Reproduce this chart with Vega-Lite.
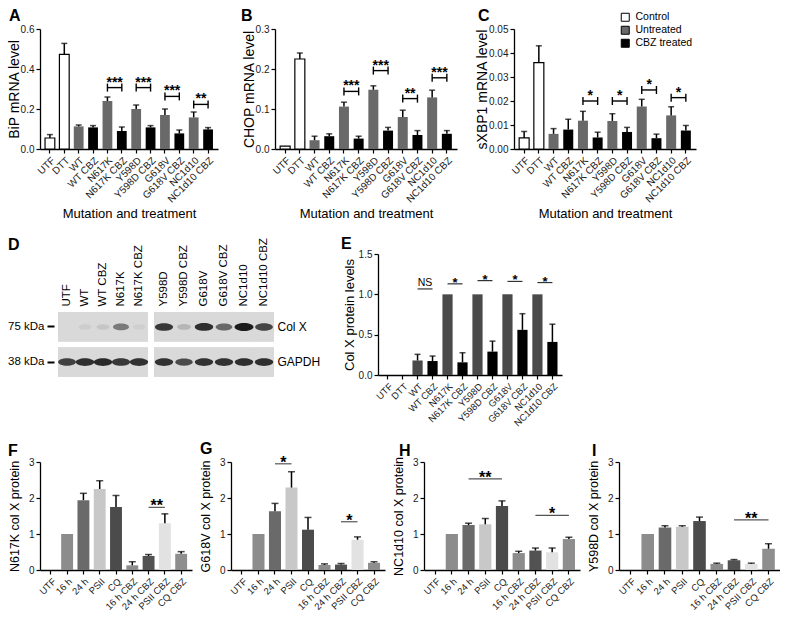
{
"$schema":"https://vega.github.io/schema/vega-lite/v6.json",
"padding":{"left":7,"top":8,"right":0,"bottom":0},
"autosize":{"type":"pad"},
"background":"white",
"config":{
 "font":"Liberation Sans",
 "view":{"stroke":null},
 "axis":{"labelFontSize":10,"labelColor":"#1a1a1a","titleColor":"black","titleFontWeight":"normal","domainColor":"black","domainWidth":1.3,"tickColor":"black","tickWidth":1.2,"tickSize":4,"grid":false,"labelPadding":2},
 "axisY":{"labelOverlap":false},
 "title":{"fontSize":16,"fontWeight":"bold","color":"black"},
 "legend":{"labelColor":"black"}
},
"datasets":{
 "A":[
  {"cat":"UTF","grp":"Control","m":0.055,"hi":0.072},
  {"cat":"DTT","grp":"Control","m":0.473,"hi":0.528},
  {"cat":"WT","grp":"Untreated","m":0.113,"hi":0.12},
  {"cat":"WT CBZ","grp":"CBZ treated","m":0.108,"hi":0.117},
  {"cat":"N617K","grp":"Untreated","m":0.24,"hi":0.26},
  {"cat":"N617K CBZ","grp":"CBZ treated","m":0.09,"hi":0.11},
  {"cat":"Y598D","grp":"Untreated","m":0.2,"hi":0.22},
  {"cat":"Y598D CBZ","grp":"CBZ treated","m":0.108,"hi":0.117},
  {"cat":"G618V","grp":"Untreated","m":0.17,"hi":0.2},
  {"cat":"G618V CBZ","grp":"CBZ treated","m":0.078,"hi":0.095},
  {"cat":"NC1d10","grp":"Untreated","m":0.158,"hi":0.185},
  {"cat":"NC1d10 CBZ","grp":"CBZ treated","m":0.098,"hi":0.107}
 ],
 "As":[
  {"a":"N617K","b":"N617K CBZ","y":0.307,"lab":"***"},
  {"a":"Y598D","b":"Y598D CBZ","y":0.307,"lab":"***"},
  {"a":"G618V","b":"G618V CBZ","y":0.263,"lab":"***"},
  {"a":"NC1d10","b":"NC1d10 CBZ","y":0.223,"lab":"**"}
 ],
 "B":[
  {"cat":"UTF","grp":"Control","m":0.007,"hi":null},
  {"cat":"DTT","grp":"Control","m":0.225,"hi":0.24},
  {"cat":"WT","grp":"Untreated","m":0.022,"hi":0.032},
  {"cat":"WT CBZ","grp":"CBZ treated","m":0.032,"hi":0.038},
  {"cat":"N617K","grp":"Untreated","m":0.106,"hi":0.117},
  {"cat":"N617K CBZ","grp":"CBZ treated","m":0.026,"hi":0.032},
  {"cat":"Y598D","grp":"Untreated","m":0.148,"hi":0.158},
  {"cat":"Y598D CBZ","grp":"CBZ treated","m":0.046,"hi":0.054},
  {"cat":"G618V","grp":"Untreated","m":0.08,"hi":0.097},
  {"cat":"G618V CBZ","grp":"CBZ treated","m":0.035,"hi":0.046},
  {"cat":"NC1d10","grp":"Untreated","m":0.129,"hi":0.147},
  {"cat":"NC1d10 CBZ","grp":"CBZ treated","m":0.038,"hi":0.046}
 ],
 "Bs":[
  {"a":"N617K","b":"N617K CBZ","y":0.144,"lab":"***"},
  {"a":"Y598D","b":"Y598D CBZ","y":0.196,"lab":"***"},
  {"a":"G618V","b":"G618V CBZ","y":0.126,"lab":"**"},
  {"a":"NC1d10","b":"NC1d10 CBZ","y":0.178,"lab":"***"}
 ],
 "C":[
  {"cat":"UTF","grp":"Control","m":0.0046,"hi":0.0073},
  {"cat":"DTT","grp":"Control","m":0.036,"hi":0.043},
  {"cat":"WT","grp":"Untreated","m":0.0063,"hi":0.0085},
  {"cat":"WT CBZ","grp":"CBZ treated","m":0.0081,"hi":0.0124},
  {"cat":"N617K","grp":"Untreated","m":0.0118,"hi":0.0157},
  {"cat":"N617K CBZ","grp":"CBZ treated","m":0.0048,"hi":0.007},
  {"cat":"Y598D","grp":"Untreated","m":0.0117,"hi":0.0147},
  {"cat":"Y598D CBZ","grp":"CBZ treated","m":0.0071,"hi":0.009},
  {"cat":"G618V","grp":"Untreated","m":0.0177,"hi":0.0207},
  {"cat":"G618V CBZ","grp":"CBZ treated","m":0.0045,"hi":0.0062},
  {"cat":"NC1d10","grp":"Untreated","m":0.014,"hi":0.0176},
  {"cat":"NC1d10 CBZ","grp":"CBZ treated","m":0.0077,"hi":0.0098}
 ],
 "Cs":[
  {"a":"N617K","b":"N617K CBZ","y":0.02,"lab":"*"},
  {"a":"Y598D","b":"Y598D CBZ","y":0.02,"lab":"*"},
  {"a":"G618V","b":"G618V CBZ","y":0.0246,"lab":"*"},
  {"a":"NC1d10","b":"NC1d10 CBZ","y":0.0214,"lab":"*"}
 ],
 "D1":[
  {"lane":"UTF","prot":"Col X","s":0.0},
  {"lane":"WT","prot":"Col X","s":0.06},
  {"lane":"WT CBZ","prot":"Col X","s":0.1},
  {"lane":"N617K","prot":"Col X","s":0.5},
  {"lane":"N617K CBZ","prot":"Col X","s":0.05},
  {"lane":"UTF","prot":"GAPDH","s":0.8},
  {"lane":"WT","prot":"GAPDH","s":0.9},
  {"lane":"WT CBZ","prot":"GAPDH","s":0.92},
  {"lane":"N617K","prot":"GAPDH","s":0.85},
  {"lane":"N617K CBZ","prot":"GAPDH","s":0.88}
 ],
 "D2":[
  {"lane":"Y598D","prot":"Col X","s":0.85},
  {"lane":"Y598D CBZ","prot":"Col X","s":0.18},
  {"lane":"G618V","prot":"Col X","s":0.9},
  {"lane":"G618V CBZ","prot":"Col X","s":0.6},
  {"lane":"NC1d10","prot":"Col X","s":1.0},
  {"lane":"NC1d10 CBZ","prot":"Col X","s":0.78},
  {"lane":"Y598D","prot":"GAPDH","s":0.88},
  {"lane":"Y598D CBZ","prot":"GAPDH","s":0.75},
  {"lane":"G618V","prot":"GAPDH","s":0.88},
  {"lane":"G618V CBZ","prot":"GAPDH","s":0.88},
  {"lane":"NC1d10","prot":"GAPDH","s":0.9},
  {"lane":"NC1d10 CBZ","prot":"GAPDH","s":0.9}
 ],
 "E":[
  {"cat":"WT","grp":"Untreated","m":0.18,"hi":0.256},
  {"cat":"WT CBZ","grp":"CBZ treated","m":0.173,"hi":0.235},
  {"cat":"N617K","grp":"Untreated","m":1.0,"hi":null},
  {"cat":"N617K CBZ","grp":"CBZ treated","m":0.157,"hi":0.276},
  {"cat":"Y598D","grp":"Untreated","m":1.0,"hi":null},
  {"cat":"Y598D CBZ","grp":"CBZ treated","m":0.29,"hi":0.42},
  {"cat":"G618V","grp":"Untreated","m":1.0,"hi":null},
  {"cat":"G618V CBZ","grp":"CBZ treated","m":0.56,"hi":0.76},
  {"cat":"NC1d10","grp":"Untreated","m":1.0,"hi":null},
  {"cat":"NC1d10 CBZ","grp":"CBZ treated","m":0.41,"hi":0.63}
 ],
 "Es":[
  {"a":"WT","b":"WT CBZ","y":1.067,"lab":"NS"},
  {"a":"N617K","b":"N617K CBZ","y":1.13,"lab":"*"},
  {"a":"Y598D","b":"Y598D CBZ","y":1.17,"lab":"*"},
  {"a":"G618V","b":"G618V CBZ","y":1.16,"lab":"*"},
  {"a":"NC1d10","b":"NC1d10 CBZ","y":1.146,"lab":"*"}
 ],
 "F":[
  {"cat":"16 h","m":1.0,"hi":null},
  {"cat":"24 h","m":1.94,"hi":2.13},
  {"cat":"PSII","m":2.25,"hi":2.48},
  {"cat":"CQ","m":1.75,"hi":2.07},
  {"cat":"16 h CBZ","m":0.13,"hi":0.23},
  {"cat":"24 h CBZ","m":0.39,"hi":0.43},
  {"cat":"PSII CBZ","m":1.3,"hi":1.56},
  {"cat":"CQ CBZ","m":0.45,"hi":0.51}
 ],
 "Fs":[{"a":"24 h CBZ","b":"PSII CBZ","y":1.74,"lab":"**"}],
 "G":[
  {"cat":"16 h","m":1.0,"hi":null},
  {"cat":"24 h","m":1.63,"hi":1.85},
  {"cat":"PSII","m":2.29,"hi":2.73},
  {"cat":"CQ","m":1.12,"hi":1.46},
  {"cat":"16 h CBZ","m":0.14,"hi":0.17},
  {"cat":"24 h CBZ","m":0.15,"hi":0.18},
  {"cat":"PSII CBZ","m":0.84,"hi":0.92},
  {"cat":"CQ CBZ","m":0.2,"hi":0.23}
 ],
 "Gs":[{"a":"24 h","b":"PSII","y":2.95,"lab":"*"},{"a":"24 h CBZ","b":"PSII CBZ","y":1.34,"lab":"*"}],
 "H":[
  {"cat":"16 h","m":1.0,"hi":null},
  {"cat":"24 h","m":1.25,"hi":1.3},
  {"cat":"PSII","m":1.27,"hi":1.43},
  {"cat":"CQ","m":1.78,"hi":1.92},
  {"cat":"16 h CBZ","m":0.47,"hi":0.52},
  {"cat":"24 h CBZ","m":0.54,"hi":0.61},
  {"cat":"PSII CBZ","m":0.49,"hi":0.61},
  {"cat":"CQ CBZ","m":0.86,"hi":0.91}
 ],
 "Hs":[{"a":"24 h","b":"CQ","mid":"PSII","y":2.53,"lab":"**"},{"a":"24 h CBZ","b":"CQ CBZ","mid":"PSII CBZ","y":1.52,"lab":"*"}],
 "I":[
  {"cat":"16 h","m":1.0,"hi":null},
  {"cat":"24 h","m":1.18,"hi":1.23},
  {"cat":"PSII","m":1.2,"hi":1.23},
  {"cat":"CQ","m":1.36,"hi":1.47},
  {"cat":"16 h CBZ","m":0.17,"hi":0.19},
  {"cat":"24 h CBZ","m":0.27,"hi":0.29},
  {"cat":"PSII CBZ","m":0.17,"hi":0.19},
  {"cat":"CQ CBZ","m":0.59,"hi":0.73}
 ],
 "Is":[{"a":"24 h CBZ","b":"CQ CBZ","mid":"PSII CBZ","y":1.39,"lab":"**"}]
},
"resolve":{"scale":{"fill":"independent","stroke":"independent"}},
"spacing":12,
"vconcat":[
 {
 "spacing":15,
 "resolve":{"scale":{"fill":"independent","stroke":"independent"}},
 "vconcat":[
 {
  "bounds":"flush","spacing":57,
  "resolve":{"scale":{"fill":"independent"},"legend":{"fill":"independent"}},
  "hconcat":[
   {
    "width":178,"height":120,
    "title":{"text":"A","frame":"group","anchor":"start","dx":-31,"dy":17,"offset":4,"baseline":"alphabetic"},
    "layer":[
     {"data":{"name":"A"},"mark":{"type":"bar","strokeWidth":1.2},
      "encoding":{
       "x":{"field":"cat","type":"nominal","scale":{"domain":["UTF","DTT","WT","WT CBZ","N617K","N617K CBZ","Y598D","Y598D CBZ","G618V","G618V CBZ","NC1d10","NC1d10 CBZ"],"paddingInner":0.32,"paddingOuter":0.35},"axis":{"labelAngle":-45,"labelFontSize":10,"title":"Mutation and treatment","titleFontSize":13,"titlePadding":3}},
       "y":{"field":"m","type":"quantitative","scale":{"domain":[0,0.6]},"axis":{"values":[0,0.2,0.4,0.6],"tickCount":20,"format":".1f","title":"BiP mRNA level","titleFontSize":14,"titlePadding":-1,"labelOverlap":false}},
       "fill":{"field":"grp","type":"nominal","scale":{"domain":["Control","Untreated","CBZ treated"],"range":["#ffffff","#696969","#000000"]},"legend":null},
       "stroke":{"condition":{"test":"datum.grp === 'Control'","value":"#000000"},"value":"transparent"}}},
     {"data":{"name":"A"},"transform":[{"filter":"datum.hi != null"}],"mark":{"type":"rule","color":"black","strokeWidth":1.5},
      "encoding":{"x":{"field":"cat","type":"nominal","scale":{"domain":["UTF","DTT","WT","WT CBZ","N617K","N617K CBZ","Y598D","Y598D CBZ","G618V","G618V CBZ","NC1d10","NC1d10 CBZ"]}},"y":{"field":"m","type":"quantitative","scale":{"domain":[0,0.6]}},"y2":{"field":"hi"}}},
     {"data":{"name":"A"},"transform":[{"filter":"datum.hi != null"}],"mark":{"type":"tick","color":"black","thickness":1.5,"size":6},
      "encoding":{"x":{"field":"cat","type":"nominal","scale":{"domain":["UTF","DTT","WT","WT CBZ","N617K","N617K CBZ","Y598D","Y598D CBZ","G618V","G618V CBZ","NC1d10","NC1d10 CBZ"]}},"y":{"field":"hi","type":"quantitative","scale":{"domain":[0,0.6]}}}},
     {"data":{"name":"As"},"mark":{"type":"rule","color":"black","strokeWidth":1.4},
      "encoding":{"x":{"field":"a","type":"nominal","scale":{"domain":["UTF","DTT","WT","WT CBZ","N617K","N617K CBZ","Y598D","Y598D CBZ","G618V","G618V CBZ","NC1d10","NC1d10 CBZ"]}},"x2":{"field":"b"},"y":{"field":"y","type":"quantitative","scale":{"domain":[0,0.6]}}}},
     {"data":{"name":"As"},"mark":{"type":"point","shape":"M0,-1L0,1","size":64,"filled":false,"color":"black","strokeWidth":1.4,"opacity":1},
      "encoding":{"x":{"field":"a","type":"nominal","scale":{"domain":["UTF","DTT","WT","WT CBZ","N617K","N617K CBZ","Y598D","Y598D CBZ","G618V","G618V CBZ","NC1d10","NC1d10 CBZ"]}},"y":{"field":"y","type":"quantitative","scale":{"domain":[0,0.6]}}}},
     {"data":{"name":"As"},"mark":{"type":"point","shape":"M0,-1L0,1","size":64,"filled":false,"color":"black","strokeWidth":1.4,"opacity":1},
      "encoding":{"x":{"field":"b","type":"nominal","scale":{"domain":["UTF","DTT","WT","WT CBZ","N617K","N617K CBZ","Y598D","Y598D CBZ","G618V","G618V CBZ","NC1d10","NC1d10 CBZ"]}},"y":{"field":"y","type":"quantitative","scale":{"domain":[0,0.6]}}}},
     {"data":{"name":"As"},"mark":{"type":"text","fontSize":14,"fontWeight":"bold","dx":7.2,"dy":-1,"baseline":"alphabetic","align":"center","color":"black"},
      "encoding":{"x":{"field":"a","type":"nominal","scale":{"domain":["UTF","DTT","WT","WT CBZ","N617K","N617K CBZ","Y598D","Y598D CBZ","G618V","G618V CBZ","NC1d10","NC1d10 CBZ"]}},"y":{"field":"y","type":"quantitative","scale":{"domain":[0,0.6]}},"text":{"field":"lab"}}}
    ]
   },
   {
    "width":182,"height":120,
    "title":{"text":"B","frame":"group","anchor":"start","dx":-34,"dy":17,"offset":4,"baseline":"alphabetic"},
    "layer":[
     {"data":{"name":"B"},"mark":{"type":"bar","strokeWidth":1.2},
      "encoding":{
       "x":{"field":"cat","type":"nominal","scale":{"domain":["UTF","DTT","WT","WT CBZ","N617K","N617K CBZ","Y598D","Y598D CBZ","G618V","G618V CBZ","NC1d10","NC1d10 CBZ"],"paddingInner":0.32,"paddingOuter":0.35},"axis":{"labelAngle":-45,"labelFontSize":10,"title":"Mutation and treatment","titleFontSize":13,"titlePadding":3}},
       "y":{"field":"m","type":"quantitative","scale":{"domain":[0,0.3]},"axis":{"values":[0,0.1,0.2,0.3],"tickCount":20,"format":".1f","title":"CHOP mRNA level","titleFontSize":14,"titlePadding":-1,"labelOverlap":false}},
       "fill":{"field":"grp","type":"nominal","scale":{"domain":["Control","Untreated","CBZ treated"],"range":["#ffffff","#696969","#000000"]},"legend":null},
       "stroke":{"condition":{"test":"datum.grp === 'Control'","value":"#000000"},"value":"transparent"}}},
     {"data":{"name":"B"},"transform":[{"filter":"datum.hi != null"}],"mark":{"type":"rule","color":"black","strokeWidth":1.5},
      "encoding":{"x":{"field":"cat","type":"nominal","scale":{"domain":["UTF","DTT","WT","WT CBZ","N617K","N617K CBZ","Y598D","Y598D CBZ","G618V","G618V CBZ","NC1d10","NC1d10 CBZ"]}},"y":{"field":"m","type":"quantitative","scale":{"domain":[0,0.3]}},"y2":{"field":"hi"}}},
     {"data":{"name":"B"},"transform":[{"filter":"datum.hi != null"}],"mark":{"type":"tick","color":"black","thickness":1.5,"size":6},
      "encoding":{"x":{"field":"cat","type":"nominal","scale":{"domain":["UTF","DTT","WT","WT CBZ","N617K","N617K CBZ","Y598D","Y598D CBZ","G618V","G618V CBZ","NC1d10","NC1d10 CBZ"]}},"y":{"field":"hi","type":"quantitative","scale":{"domain":[0,0.3]}}}},
     {"data":{"name":"Bs"},"mark":{"type":"rule","color":"black","strokeWidth":1.4},
      "encoding":{"x":{"field":"a","type":"nominal","scale":{"domain":["UTF","DTT","WT","WT CBZ","N617K","N617K CBZ","Y598D","Y598D CBZ","G618V","G618V CBZ","NC1d10","NC1d10 CBZ"]}},"x2":{"field":"b"},"y":{"field":"y","type":"quantitative","scale":{"domain":[0,0.3]}}}},
     {"data":{"name":"Bs"},"mark":{"type":"point","shape":"M0,-1L0,1","size":64,"filled":false,"color":"black","strokeWidth":1.4,"opacity":1},
      "encoding":{"x":{"field":"a","type":"nominal","scale":{"domain":["UTF","DTT","WT","WT CBZ","N617K","N617K CBZ","Y598D","Y598D CBZ","G618V","G618V CBZ","NC1d10","NC1d10 CBZ"]}},"y":{"field":"y","type":"quantitative","scale":{"domain":[0,0.3]}}}},
     {"data":{"name":"Bs"},"mark":{"type":"point","shape":"M0,-1L0,1","size":64,"filled":false,"color":"black","strokeWidth":1.4,"opacity":1},
      "encoding":{"x":{"field":"b","type":"nominal","scale":{"domain":["UTF","DTT","WT","WT CBZ","N617K","N617K CBZ","Y598D","Y598D CBZ","G618V","G618V CBZ","NC1d10","NC1d10 CBZ"]}},"y":{"field":"y","type":"quantitative","scale":{"domain":[0,0.3]}}}},
     {"data":{"name":"Bs"},"mark":{"type":"text","fontSize":14,"fontWeight":"bold","dx":7.35,"dy":-1,"baseline":"alphabetic","align":"center","color":"black"},
      "encoding":{"x":{"field":"a","type":"nominal","scale":{"domain":["UTF","DTT","WT","WT CBZ","N617K","N617K CBZ","Y598D","Y598D CBZ","G618V","G618V CBZ","NC1d10","NC1d10 CBZ"]}},"y":{"field":"y","type":"quantitative","scale":{"domain":[0,0.3]}},"text":{"field":"lab"}}}
    ]
   },
   {
    "width":182,"height":120,
    "title":{"text":"C","frame":"group","anchor":"start","dx":-36,"dy":29,"offset":4,"baseline":"alphabetic"},
    "layer":[
     {"data":{"name":"C"},"mark":{"type":"bar","strokeWidth":1.2},
      "encoding":{
       "x":{"field":"cat","type":"nominal","scale":{"domain":["UTF","DTT","WT","WT CBZ","N617K","N617K CBZ","Y598D","Y598D CBZ","G618V","G618V CBZ","NC1d10","NC1d10 CBZ"],"paddingInner":0.32,"paddingOuter":0.35},"axis":{"labelAngle":-45,"labelFontSize":10,"title":"Mutation and treatment","titleFontSize":13,"titlePadding":3}},
       "y":{"field":"m","type":"quantitative","scale":{"domain":[0,0.05]},"axis":{"values":[0,0.01,0.02,0.03,0.04,0.05],"tickCount":20,"format":".2f","title":"sXBP1 mRNA level","titleFontSize":14,"titlePadding":-1,"labelOverlap":false}},
       "fill":{"field":"grp","type":"nominal","scale":{"domain":["Control","Untreated","CBZ treated"],"range":["#ffffff","#696969","#000000"]},"legend":{"orient":"none","legendX":106,"legendY":-17,"title":null,"symbolType":"square","symbolSize":64,"symbolStrokeColor":"black","symbolStrokeWidth":1,"labelFontSize":10.5,"labelColor":"black","rowPadding":0,"padding":0,"labelOffset":5}},
       "stroke":{"condition":{"test":"datum.grp === 'Control'","value":"#000000"},"value":"transparent"}}},
     {"data":{"name":"C"},"transform":[{"filter":"datum.hi != null"}],"mark":{"type":"rule","color":"black","strokeWidth":1.5},
      "encoding":{"x":{"field":"cat","type":"nominal","scale":{"domain":["UTF","DTT","WT","WT CBZ","N617K","N617K CBZ","Y598D","Y598D CBZ","G618V","G618V CBZ","NC1d10","NC1d10 CBZ"]}},"y":{"field":"m","type":"quantitative","scale":{"domain":[0,0.05]}},"y2":{"field":"hi"}}},
     {"data":{"name":"C"},"transform":[{"filter":"datum.hi != null"}],"mark":{"type":"tick","color":"black","thickness":1.5,"size":6},
      "encoding":{"x":{"field":"cat","type":"nominal","scale":{"domain":["UTF","DTT","WT","WT CBZ","N617K","N617K CBZ","Y598D","Y598D CBZ","G618V","G618V CBZ","NC1d10","NC1d10 CBZ"]}},"y":{"field":"hi","type":"quantitative","scale":{"domain":[0,0.05]}}}},
     {"data":{"name":"Cs"},"mark":{"type":"rule","color":"black","strokeWidth":1.4},
      "encoding":{"x":{"field":"a","type":"nominal","scale":{"domain":["UTF","DTT","WT","WT CBZ","N617K","N617K CBZ","Y598D","Y598D CBZ","G618V","G618V CBZ","NC1d10","NC1d10 CBZ"]}},"x2":{"field":"b"},"y":{"field":"y","type":"quantitative","scale":{"domain":[0,0.05]}}}},
     {"data":{"name":"Cs"},"mark":{"type":"point","shape":"M0,-1L0,1","size":64,"filled":false,"color":"black","strokeWidth":1.4,"opacity":1},
      "encoding":{"x":{"field":"a","type":"nominal","scale":{"domain":["UTF","DTT","WT","WT CBZ","N617K","N617K CBZ","Y598D","Y598D CBZ","G618V","G618V CBZ","NC1d10","NC1d10 CBZ"]}},"y":{"field":"y","type":"quantitative","scale":{"domain":[0,0.05]}}}},
     {"data":{"name":"Cs"},"mark":{"type":"point","shape":"M0,-1L0,1","size":64,"filled":false,"color":"black","strokeWidth":1.4,"opacity":1},
      "encoding":{"x":{"field":"b","type":"nominal","scale":{"domain":["UTF","DTT","WT","WT CBZ","N617K","N617K CBZ","Y598D","Y598D CBZ","G618V","G618V CBZ","NC1d10","NC1d10 CBZ"]}},"y":{"field":"y","type":"quantitative","scale":{"domain":[0,0.05]}}}},
     {"data":{"name":"Cs"},"mark":{"type":"text","fontSize":14,"fontWeight":"bold","dx":7.35,"dy":-1,"baseline":"alphabetic","align":"center","color":"black"},
      "encoding":{"x":{"field":"a","type":"nominal","scale":{"domain":["UTF","DTT","WT","WT CBZ","N617K","N617K CBZ","Y598D","Y598D CBZ","G618V","G618V CBZ","NC1d10","NC1d10 CBZ"]}},"y":{"field":"y","type":"quantitative","scale":{"domain":[0,0.05]}},"text":{"field":"lab"}}}
    ]
   }
  ]
 },
 {
  "bounds":"flush","spacing":6,
  "hconcat":[
   {
    "width":108,"height":123,
    "title":{"text":"D","frame":"group","anchor":"start","dx":-32,"dy":22,"offset":1,"baseline":"alphabetic"},
    "data":{"name":"D1"},
    "encoding":{
     "x":{"field":"lane","type":"nominal","scale":{"domain":["UTF","WT","WT CBZ","N617K","N617K CBZ"],"range":[18,108],"paddingInner":0,"paddingOuter":0},"axis":{"orient":"top","labelAngle":-90,"title":null,"domain":false,"ticks":false,"labelFontSize":11.5,"labelPadding":6,"offset":-58,"labelColor":"black"}},
     "y":{"field":"prot","type":"nominal","scale":{"domain":["Col X","GAPDH"],"range":[58,123],"paddingInner":0.15,"paddingOuter":0},"axis":{"orient":"left","title":null,"domain":false,"labelExpr":"datum.value == 'Col X' ? '75 kDa' : '38 kDa'","tickSize":7,"tickWidth":2,"offset":-14,"labelPadding":3,"labelFontSize":11.5,"labelColor":"black"}}
    },
    "layer":[
     {"mark":{"type":"rect","fill":"#d9d9d9"}},
     {"mark":{"type":"point","shape":"M-1,0A1,0.42,0,1,0,1,0A1,0.42,0,1,0,-1,0Z","filled":true,"color":"#111111"},
      "encoding":{"size":{"field":"s","type":"quantitative","scale":{"domain":[0,1],"range":[150,360]},"legend":null},"opacity":{"field":"s","type":"quantitative","scale":{"domain":[0,1],"range":[0,0.95]},"legend":null}}}
    ]
   },
   {
    "width":218,"height":123,
    "data":{"name":"D2"},
    "encoding":{
     "x":{"field":"lane","type":"nominal","scale":{"domain":["Y598D","Y598D CBZ","G618V","G618V CBZ","NC1d10","NC1d10 CBZ"],"range":[0,120],"paddingInner":0,"paddingOuter":0},"axis":{"orient":"top","labelAngle":-90,"title":null,"domain":false,"ticks":false,"labelFontSize":11.5,"labelPadding":6,"offset":-58,"labelColor":"black"}},
     "y":{"field":"prot","type":"nominal","scale":{"domain":["Col X","GAPDH"],"range":[58,123],"paddingInner":0.15,"paddingOuter":0},"axis":{"orient":"right","title":null,"domain":false,"ticks":false,"offset":-98,"labelPadding":3,"labelFontSize":12,"labelColor":"black"}}
    },
    "layer":[
     {"mark":{"type":"rect","fill":"#d9d9d9"}},
     {"mark":{"type":"point","shape":"M-1,0A1,0.42,0,1,0,1,0A1,0.42,0,1,0,-1,0Z","filled":true,"color":"#111111"},
      "encoding":{"size":{"field":"s","type":"quantitative","scale":{"domain":[0,1],"range":[150,360]},"legend":null},"opacity":{"field":"s","type":"quantitative","scale":{"domain":[0,1],"range":[0,0.95]},"legend":null}}}
    ]
   },
   {
    "width":184,"height":121,
    "title":{"text":"E","frame":"group","anchor":"start","dx":-37,"dy":17,"offset":1,"baseline":"alphabetic"},
    "layer":[
     {"data":{"name":"E"},"mark":{"type":"bar"},
      "encoding":{
       "x":{"field":"cat","type":"nominal","scale":{"domain":["UTF","DTT","WT","WT CBZ","N617K","N617K CBZ","Y598D","Y598D CBZ","G618V","G618V CBZ","NC1d10","NC1d10 CBZ"],"paddingInner":0.32,"paddingOuter":0.3},"axis":{"labelAngle":-45,"labelFontSize":9.5,"title":null}},
       "y":{"field":"m","type":"quantitative","scale":{"domain":[0,1.5]},"axis":{"values":[0,0.5,1,1.5],"tickCount":20,"format":".1f","title":"Col X protein levels","titleFontSize":13,"titlePadding":2,"labelOverlap":false}},
       "fill":{"field":"grp","type":"nominal","scale":{"domain":["Untreated","CBZ treated"],"range":["#4a4a4a","#000000"]},"legend":null}}},
     {"data":{"name":"E"},"transform":[{"filter":"datum.hi != null"}],"mark":{"type":"rule","color":"black","strokeWidth":1.5},
      "encoding":{"x":{"field":"cat","type":"nominal","scale":{"domain":["UTF","DTT","WT","WT CBZ","N617K","N617K CBZ","Y598D","Y598D CBZ","G618V","G618V CBZ","NC1d10","NC1d10 CBZ"]}},"y":{"field":"m","type":"quantitative","scale":{"domain":[0,1.5]}},"y2":{"field":"hi"}}},
     {"data":{"name":"E"},"transform":[{"filter":"datum.hi != null"}],"mark":{"type":"tick","color":"black","thickness":1.5,"size":6},
      "encoding":{"x":{"field":"cat","type":"nominal","scale":{"domain":["UTF","DTT","WT","WT CBZ","N617K","N617K CBZ","Y598D","Y598D CBZ","G618V","G618V CBZ","NC1d10","NC1d10 CBZ"]}},"y":{"field":"hi","type":"quantitative","scale":{"domain":[0,1.5]}}}},
     {"data":{"name":"Es"},"mark":{"type":"rule","color":"#333333","strokeWidth":1.2},
      "encoding":{"x":{"field":"a","type":"nominal","scale":{"domain":["UTF","DTT","WT","WT CBZ","N617K","N617K CBZ","Y598D","Y598D CBZ","G618V","G618V CBZ","NC1d10","NC1d10 CBZ"]}},"x2":{"field":"b"},"y":{"field":"y","type":"quantitative","scale":{"domain":[0,1.5]}}}},
     {"data":{"name":"Es"},"transform":[{"filter":"datum.lab != 'NS'"}],"mark":{"type":"text","fontSize":13,"fontWeight":"bold","dx":7.5,"dy":3,"baseline":"alphabetic","align":"center","color":"black"},
      "encoding":{"x":{"field":"a","type":"nominal","scale":{"domain":["UTF","DTT","WT","WT CBZ","N617K","N617K CBZ","Y598D","Y598D CBZ","G618V","G618V CBZ","NC1d10","NC1d10 CBZ"]}},"y":{"field":"y","type":"quantitative","scale":{"domain":[0,1.5]}},"text":{"field":"lab"}}},
     {"data":{"name":"Es"},"transform":[{"filter":"datum.lab == 'NS'"}],"mark":{"type":"text","fontSize":10.5,"dx":7.5,"dy":-3,"baseline":"alphabetic","align":"center","color":"black"},
      "encoding":{"x":{"field":"a","type":"nominal","scale":{"domain":["UTF","DTT","WT","WT CBZ","N617K","N617K CBZ","Y598D","Y598D CBZ","G618V","G618V CBZ","NC1d10","NC1d10 CBZ"]}},"y":{"field":"y","type":"quantitative","scale":{"domain":[0,1.5]}},"text":{"field":"lab"}}}
    ]
   }
  ]
 }
 ]
 },
 {
  "bounds":"flush","spacing":39,
  "hconcat":[
   {
    "width":152,"height":108,
    "title":{"text":"F","frame":"group","anchor":"start","dx":-32,"dy":20,"offset":5,"baseline":"alphabetic"},
    "layer":[
     {"data":{"name":"F"},"mark":{"type":"bar"},
      "encoding":{
       "x":{"field":"cat","type":"nominal","scale":{"domain":["UTF","16 h","24 h","PSII","CQ","16 h CBZ","24 h CBZ","PSII CBZ","CQ CBZ"],"paddingInner":0.27,"paddingOuter":0.3},"axis":{"labelAngle":-45,"labelFontSize":9.5,"title":null}},
       "y":{"field":"m","type":"quantitative","scale":{"domain":[0,3]},"axis":{"values":[0,1,2,3],"tickCount":20,"format":"d","title":"N617K col X protein","titleFontSize":12.5,"titlePadding":7,"labelOverlap":false}},
       "fill":{"field":"cat","type":"nominal","scale":{"domain":["UTF","16 h","24 h","PSII","CQ","16 h CBZ","24 h CBZ","PSII CBZ","CQ CBZ"],"range":["#ffffff","#8c8c8c","#6a6a6a","#c8c8c8","#4b4b4b","#8c8c8c","#525252","#e2e2e2","#8e8e8e"]},"legend":null}}},
     {"data":{"name":"F"},"transform":[{"filter":"datum.hi != null"}],"mark":{"type":"rule","color":"black","strokeWidth":1.5},
      "encoding":{"x":{"field":"cat","type":"nominal","scale":{"domain":["UTF","16 h","24 h","PSII","CQ","16 h CBZ","24 h CBZ","PSII CBZ","CQ CBZ"]}},"y":{"field":"m","type":"quantitative","scale":{"domain":[0,3]}},"y2":{"field":"hi"}}},
     {"data":{"name":"F"},"transform":[{"filter":"datum.hi != null"}],"mark":{"type":"tick","color":"black","thickness":1.5,"size":7},
      "encoding":{"x":{"field":"cat","type":"nominal","scale":{"domain":["UTF","16 h","24 h","PSII","CQ","16 h CBZ","24 h CBZ","PSII CBZ","CQ CBZ"]}},"y":{"field":"hi","type":"quantitative","scale":{"domain":[0,3]}}}},
     {"data":{"name":"Fs"},"mark":{"type":"rule","color":"#555555","strokeWidth":1.2},
      "encoding":{"x":{"field":"a","type":"nominal","scale":{"domain":["UTF","16 h","24 h","PSII","CQ","16 h CBZ","24 h CBZ","PSII CBZ","CQ CBZ"]}},"x2":{"field":"b"},"y":{"field":"y","type":"quantitative","scale":{"domain":[0,3]}}}},
     {"data":{"name":"Fs"},"mark":{"type":"text","fontSize":16,"fontWeight":"bold","dx":8.2,"dy":4,"baseline":"alphabetic","align":"center","color":"black"},
      "encoding":{"x":{"field":"a","type":"nominal","scale":{"domain":["UTF","16 h","24 h","PSII","CQ","16 h CBZ","24 h CBZ","PSII CBZ","CQ CBZ"]}},"y":{"field":"y","type":"quantitative","scale":{"domain":[0,3]}},"text":{"field":"lab"}}}
    ]
   },
   {
    "width":154,"height":108,
    "title":{"text":"G","frame":"group","anchor":"start","dx":-31,"dy":20,"offset":5,"baseline":"alphabetic"},
    "layer":[
     {"data":{"name":"G"},"mark":{"type":"bar"},
      "encoding":{
       "x":{"field":"cat","type":"nominal","scale":{"domain":["UTF","16 h","24 h","PSII","CQ","16 h CBZ","24 h CBZ","PSII CBZ","CQ CBZ"],"paddingInner":0.27,"paddingOuter":0.3},"axis":{"labelAngle":-45,"labelFontSize":9.5,"title":null}},
       "y":{"field":"m","type":"quantitative","scale":{"domain":[0,3]},"axis":{"values":[0,1,2,3],"tickCount":20,"format":"d","title":"G618V col X protein","titleFontSize":12.5,"titlePadding":7,"labelOverlap":false}},
       "fill":{"field":"cat","type":"nominal","scale":{"domain":["UTF","16 h","24 h","PSII","CQ","16 h CBZ","24 h CBZ","PSII CBZ","CQ CBZ"],"range":["#ffffff","#8c8c8c","#6a6a6a","#c8c8c8","#4b4b4b","#8c8c8c","#525252","#e2e2e2","#8e8e8e"]},"legend":null}}},
     {"data":{"name":"G"},"transform":[{"filter":"datum.hi != null"}],"mark":{"type":"rule","color":"black","strokeWidth":1.5},
      "encoding":{"x":{"field":"cat","type":"nominal","scale":{"domain":["UTF","16 h","24 h","PSII","CQ","16 h CBZ","24 h CBZ","PSII CBZ","CQ CBZ"]}},"y":{"field":"m","type":"quantitative","scale":{"domain":[0,3]}},"y2":{"field":"hi"}}},
     {"data":{"name":"G"},"transform":[{"filter":"datum.hi != null"}],"mark":{"type":"tick","color":"black","thickness":1.5,"size":7},
      "encoding":{"x":{"field":"cat","type":"nominal","scale":{"domain":["UTF","16 h","24 h","PSII","CQ","16 h CBZ","24 h CBZ","PSII CBZ","CQ CBZ"]}},"y":{"field":"hi","type":"quantitative","scale":{"domain":[0,3]}}}},
     {"data":{"name":"Gs"},"mark":{"type":"rule","color":"#555555","strokeWidth":1.2},
      "encoding":{"x":{"field":"a","type":"nominal","scale":{"domain":["UTF","16 h","24 h","PSII","CQ","16 h CBZ","24 h CBZ","PSII CBZ","CQ CBZ"]}},"x2":{"field":"b"},"y":{"field":"y","type":"quantitative","scale":{"domain":[0,3]}}}},
     {"data":{"name":"Gs"},"mark":{"type":"text","fontSize":16,"fontWeight":"bold","dx":8.3,"dy":4,"baseline":"alphabetic","align":"center","color":"black"},
      "encoding":{"x":{"field":"a","type":"nominal","scale":{"domain":["UTF","16 h","24 h","PSII","CQ","16 h CBZ","24 h CBZ","PSII CBZ","CQ CBZ"]}},"y":{"field":"y","type":"quantitative","scale":{"domain":[0,3]}},"text":{"field":"lab"}}}
    ]
   },
   {
    "width":156,"height":108,
    "title":{"text":"H","frame":"group","anchor":"start","dx":-25,"dy":20,"offset":5,"baseline":"alphabetic"},
    "layer":[
     {"data":{"name":"H"},"mark":{"type":"bar"},
      "encoding":{
       "x":{"field":"cat","type":"nominal","scale":{"domain":["UTF","16 h","24 h","PSII","CQ","16 h CBZ","24 h CBZ","PSII CBZ","CQ CBZ"],"paddingInner":0.27,"paddingOuter":0.3},"axis":{"labelAngle":-45,"labelFontSize":9.5,"title":null}},
       "y":{"field":"m","type":"quantitative","scale":{"domain":[0,3]},"axis":{"values":[0,1,2,3],"tickCount":20,"format":"d","title":"NC1d10 col X protein","titleFontSize":12.5,"titlePadding":7,"labelOverlap":false}},
       "fill":{"field":"cat","type":"nominal","scale":{"domain":["UTF","16 h","24 h","PSII","CQ","16 h CBZ","24 h CBZ","PSII CBZ","CQ CBZ"],"range":["#ffffff","#8c8c8c","#6a6a6a","#c8c8c8","#4b4b4b","#8c8c8c","#525252","#e2e2e2","#8e8e8e"]},"legend":null}}},
     {"data":{"name":"H"},"transform":[{"filter":"datum.hi != null"}],"mark":{"type":"rule","color":"black","strokeWidth":1.5},
      "encoding":{"x":{"field":"cat","type":"nominal","scale":{"domain":["UTF","16 h","24 h","PSII","CQ","16 h CBZ","24 h CBZ","PSII CBZ","CQ CBZ"]}},"y":{"field":"m","type":"quantitative","scale":{"domain":[0,3]}},"y2":{"field":"hi"}}},
     {"data":{"name":"H"},"transform":[{"filter":"datum.hi != null"}],"mark":{"type":"tick","color":"black","thickness":1.5,"size":7},
      "encoding":{"x":{"field":"cat","type":"nominal","scale":{"domain":["UTF","16 h","24 h","PSII","CQ","16 h CBZ","24 h CBZ","PSII CBZ","CQ CBZ"]}},"y":{"field":"hi","type":"quantitative","scale":{"domain":[0,3]}}}},
     {"data":{"name":"Hs"},"mark":{"type":"rule","color":"#555555","strokeWidth":1.2},
      "encoding":{"x":{"field":"a","type":"nominal","scale":{"domain":["UTF","16 h","24 h","PSII","CQ","16 h CBZ","24 h CBZ","PSII CBZ","CQ CBZ"]}},"x2":{"field":"b"},"y":{"field":"y","type":"quantitative","scale":{"domain":[0,3]}}}},
     {"data":{"name":"Hs"},"mark":{"type":"text","fontSize":16,"fontWeight":"bold","dy":4,"baseline":"alphabetic","align":"center","color":"black"},
      "encoding":{"x":{"field":"mid","type":"nominal","scale":{"domain":["UTF","16 h","24 h","PSII","CQ","16 h CBZ","24 h CBZ","PSII CBZ","CQ CBZ"]}},"y":{"field":"y","type":"quantitative","scale":{"domain":[0,3]}},"text":{"field":"lab"}}}
    ]
   },
   {
    "width":161,"height":108,
    "title":{"text":"I","frame":"group","anchor":"start","dx":-27,"dy":20,"offset":5,"baseline":"alphabetic"},
    "layer":[
     {"data":{"name":"I"},"mark":{"type":"bar"},
      "encoding":{
       "x":{"field":"cat","type":"nominal","scale":{"domain":["UTF","16 h","24 h","PSII","CQ","16 h CBZ","24 h CBZ","PSII CBZ","CQ CBZ"],"paddingInner":0.27,"paddingOuter":0.3},"axis":{"labelAngle":-45,"labelFontSize":9.5,"title":null}},
       "y":{"field":"m","type":"quantitative","scale":{"domain":[0,3]},"axis":{"values":[0,1,2,3],"tickCount":20,"format":"d","title":"Y598D col X protein","titleFontSize":12.5,"titlePadding":7,"labelOverlap":false}},
       "fill":{"field":"cat","type":"nominal","scale":{"domain":["UTF","16 h","24 h","PSII","CQ","16 h CBZ","24 h CBZ","PSII CBZ","CQ CBZ"],"range":["#ffffff","#8c8c8c","#6a6a6a","#c8c8c8","#4b4b4b","#8c8c8c","#525252","#e2e2e2","#8e8e8e"]},"legend":null}}},
     {"data":{"name":"I"},"transform":[{"filter":"datum.hi != null"}],"mark":{"type":"rule","color":"black","strokeWidth":1.5},
      "encoding":{"x":{"field":"cat","type":"nominal","scale":{"domain":["UTF","16 h","24 h","PSII","CQ","16 h CBZ","24 h CBZ","PSII CBZ","CQ CBZ"]}},"y":{"field":"m","type":"quantitative","scale":{"domain":[0,3]}},"y2":{"field":"hi"}}},
     {"data":{"name":"I"},"transform":[{"filter":"datum.hi != null"}],"mark":{"type":"tick","color":"black","thickness":1.5,"size":7},
      "encoding":{"x":{"field":"cat","type":"nominal","scale":{"domain":["UTF","16 h","24 h","PSII","CQ","16 h CBZ","24 h CBZ","PSII CBZ","CQ CBZ"]}},"y":{"field":"hi","type":"quantitative","scale":{"domain":[0,3]}}}},
     {"data":{"name":"Is"},"mark":{"type":"rule","color":"#555555","strokeWidth":1.2},
      "encoding":{"x":{"field":"a","type":"nominal","scale":{"domain":["UTF","16 h","24 h","PSII","CQ","16 h CBZ","24 h CBZ","PSII CBZ","CQ CBZ"]}},"x2":{"field":"b"},"y":{"field":"y","type":"quantitative","scale":{"domain":[0,3]}}}},
     {"data":{"name":"Is"},"mark":{"type":"text","fontSize":16,"fontWeight":"bold","dy":4,"baseline":"alphabetic","align":"center","color":"black"},
      "encoding":{"x":{"field":"mid","type":"nominal","scale":{"domain":["UTF","16 h","24 h","PSII","CQ","16 h CBZ","24 h CBZ","PSII CBZ","CQ CBZ"]}},"y":{"field":"y","type":"quantitative","scale":{"domain":[0,3]}},"text":{"field":"lab"}}}
    ]
   }
  ]
 }
]
}
